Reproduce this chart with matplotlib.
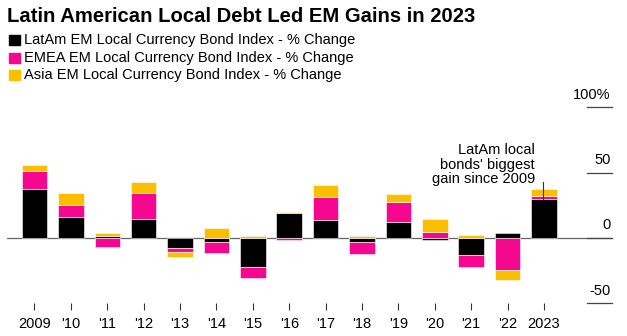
import numpy as np
import matplotlib
matplotlib.use("Agg")
import matplotlib.pyplot as plt

plt.rcParams['font.family'] = ['Liberation Sans', 'DejaVu Sans']

years = ["2009", "'10", "'11", "'12", "'13", "'14", "'15", "'16",
         "'17", "'18", "'19", "'20", "'21", "'22", "2023"]
latam = [37.3, 15.8, 1.5, 14.5, -7.7, -3.1, -22.0, 18.9,
         14.0, -3.1, 12.5, -1.8, -13.0, 4.1, 29.6]
emea = [14.2, 9.5, -6.6, 20.2, -3.0, -8.4, -8.9, -1.8,
        17.4, -8.9, 14.8, 4.8, -9.0, -24.5, 2.6]
asia = [4.1, 9.4, 2.6, 8.2, -3.6, 7.7, 1.3, 1.3,
        9.2, 1.5, 6.4, 10.0, 2.0, -7.7, 5.1]

series = [
    ("LatAm EM Local Currency Bond Index - % Change", latam, "#000000"),
    ("EMEA EM Local Currency Bond Index - % Change", emea, "#f5078f"),
    ("Asia EM Local Currency Bond Index - % Change", asia, "#fcbf00"),
]
yticks = [100, 50, 0, -50]
ytick_labels = ["100%", "50", "0", "-50"]

fig = plt.figure(figsize=(6.27, 3.36), dpi=100)
W, H = 627, 336
ax = fig.add_axes([7 / W, 1 - 303 / H, 605 / W, 218 / H])

x = np.arange(len(years))
pos_base = np.zeros(len(years))
neg_base = np.zeros(len(years))
for name, vals, color in series:
    vals = np.array(vals)
    base = np.where(vals >= 0, pos_base, neg_base)
    ax.bar(x, vals, bottom=base, width=0.7, color=color,
           edgecolor="white", linewidth=0.4, zorder=2, label=name)
    pos_base += np.where(vals >= 0, vals, 0)
    neg_base += np.where(vals < 0, vals, 0)

ax.set_xlim(-0.755, 15.87)
ax.set_ylim(-49.8, 117.2)

# zero line
ax.axhline(0, color="#666666", linewidth=0.9, zorder=1)

# right-side value labels with short rules
ytr = ax.get_yaxis_transform()
for v, lbl in zip(yticks, ytick_labels):
    ax.plot([0.959, 1.0], [v, v], transform=ytr, color="#444444",
            linewidth=0.9, clip_on=False, zorder=1)
    ax.annotate(lbl, xy=(1.0, v), xycoords=ytr, xytext=(-1, 4),
                textcoords="offset points", ha="right", va="bottom",
                fontsize=10.5, color="#000000")

# annotation for 2023
ax.text(13.75, 39.5, "LatAm local\nbonds' biggest\ngain since 2009",
        ha="right", va="bottom", fontsize=10.5, linespacing=1.05)
ax.plot([13.98, 13.98], [42.9, 29.6], color="#333333", linewidth=0.8, zorder=3)

ax.set_xticks(x)
ax.set_xticklabels(years, fontsize=10.5)
ax.tick_params(axis="x", length=5, width=0.8, color="#333333", pad=5)
ax.set_yticks([])
for s in ax.spines.values():
    s.set_visible(False)

fig.text(7 / W, 1 - 16 / H, "Latin American Local Debt Led EM Gains in 2023",
         fontsize=14.6, fontweight="bold", va="center", ha="left")

leg_y = [40, 58, 75]
for (name, vals, color), yy in zip(series, leg_y):
    fig.patches.append(plt.Rectangle((9 / W, 1 - (yy + 5) / H), 11 / W, 10 / H,
                                     transform=fig.transFigure, color=color))
    fig.text(24 / W, 1 - yy / H, name, fontsize=10.5, va="center", ha="left")

fig.savefig("out.png", dpi=100)
